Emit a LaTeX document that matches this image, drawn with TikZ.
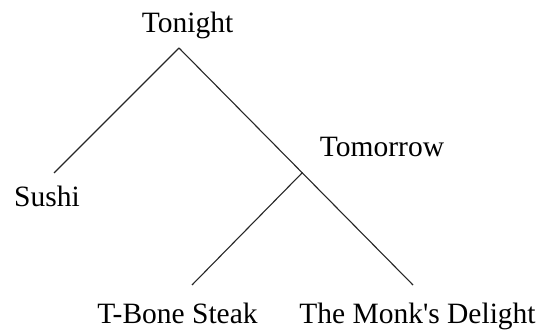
\documentclass[tikz,border=0pt]{standalone}
\usepackage{fontspec}
\setmainfont{Liberation Serif}
\begin{document}
\begin{tikzpicture}[x=1pt,y=-1pt,
  lbl/.style={anchor=base,inner sep=0pt,font=\fontsize{29.5}{32}\selectfont},
  branch/.style={line width=1.1pt,draw=black!85}]
\useasboundingbox (0,0) rectangle (541,331);
% labels
\node[lbl] (tonight) at (187.5,33) {Tonight};
\node[lbl] (sushi) at (47,207) {Sushi};
\node[lbl] (tomorrow) at (382,157) {Tomorrow};
\node[lbl] (tbone) at (177.5,323) {T-Bone Steak};
\node[lbl] (monk) at (417.5,323) {The Monk\textquotesingle s Delight};
% branch points and leaf ends
\coordinate (root) at (179,48);
\coordinate (sushiEnd) at (54,173);
\coordinate (split) at (302.5,172.5);
\coordinate (tboneEnd) at (192,285);
\coordinate (monkEnd) at (413,285);
% branches
\draw[branch] (root) -- (sushiEnd);
\draw[branch] (root) -- (monkEnd);
\draw[branch] (split) -- (tboneEnd);
\end{tikzpicture}
\end{document}
